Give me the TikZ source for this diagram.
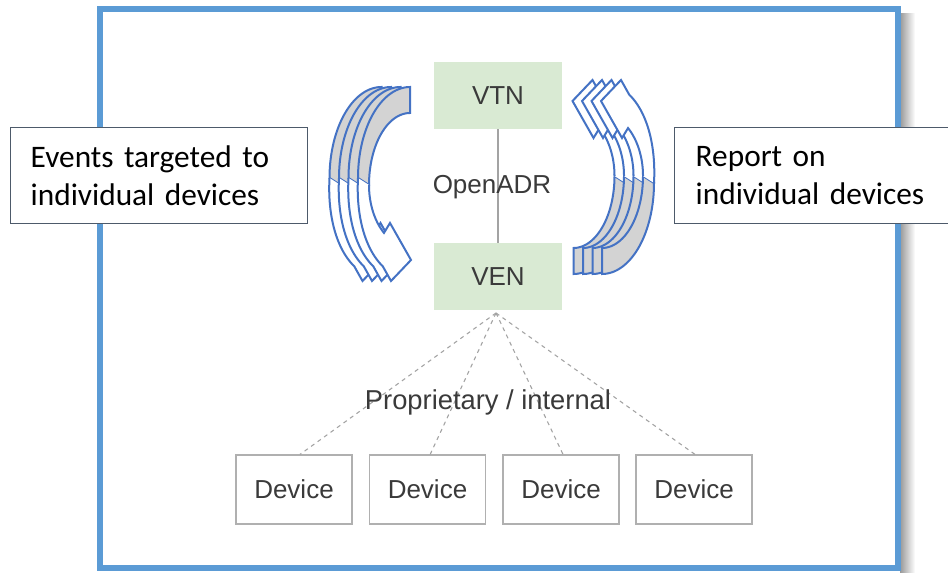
\documentclass[tikz,border=0pt]{standalone}
\usepackage{fontspec}
\setmainfont{Liberation Sans}
\newfontfamily\calib{Carlito}
\definecolor{framecol}{HTML}{5B9BD5}
\definecolor{arrowblue}{HTML}{4472C4}
\definecolor{backgray}{HTML}{D3D3D3}
\definecolor{nodegreen}{HTML}{D9EAD3}
\definecolor{txtgray}{HTML}{3A3A3A}
\definecolor{devgray}{HTML}{B0B0B0}
\definecolor{dashgray}{HTML}{A3A3A3}
\definecolor{boxedge}{HTML}{4D5A6A}

% front (white) band of one curved arrow, offset #1 px
\newcommand\ribfrontpath[1]{plot[domain=180:118,samples=40,variable=\t]({#1+410-(52+6*(180-\t)/62)*cos(180-\t)},{178+100*sin(\t)}) -- ({#1+391},281) -- ({#1+411},260) -- ({#1+390},223) -- plot[domain=129.4:180,samples=40,variable=\t]({#1+410+41*cos(\t)},{185+62*sin(\t)})}
% back (gray) face of one curved arrow
\newcommand\ribback[1]{\filldraw[ribbackstyle] plot[domain=-90:-180,samples=40,variable=\t]({#1+410+52*cos(\t)},{178+91*sin(\t)}) -- plot[domain=180:270,samples=40,variable=\t]({#1+410+41*cos(\t)},{185+72*sin(\t)}) -- cycle;}
\newcommand\ribarrow[1]{\ribback{#1}\fill[white]\ribfrontpath{#1} -- cycle;\draw[riblinestyle]\ribfrontpath{#1};}

\begin{document}
\begin{tikzpicture}[x=0.75pt,y=-0.75pt,
  ribbackstyle/.style={fill=backgray,draw=arrowblue,line width=1.5pt},
  riblinestyle/.style={draw=arrowblue,line width=1.5pt},
  framestyle/.style={draw=framecol,line width=4.5pt},
  gnode/.style={fill=nodegreen,minimum width=96pt,minimum height=50.25pt,inner sep=0pt,text=txtgray,font=\fontsize{19.5pt}{23pt}\selectfont},
  lbl/.style={inner sep=0pt,text=txtgray,font=\fontsize{19.5pt}{23pt}\selectfont},
  dev/.style={draw=devgray,line width=0.9pt,fill=white,minimum width=87pt,minimum height=51.75pt,inner sep=0pt,text=txtgray,font=\fontsize{19.5pt}{23pt}\selectfont},
  link/.style={draw=dashgray,line width=0.8pt},
  dashl/.style={draw=dashgray,line width=0.8pt,dash pattern=on 3pt off 3pt},
  tbox/.style={draw=boxedge,fill=white,line width=1.1pt,align=left,inner ysep=0pt,text=black,font=\calib\fontsize{23.5pt}{28.5pt}\selectfont}
]
\clip (0,0) rectangle (948,573);
\fill[white] (0,0) rectangle (948,573);
% frame with shadow
\shade[left color=black!40,right color=white] (900,14) rectangle (915,573);
\draw[framestyle] (100,9) rectangle (898,568);

% left curved arrows (back to front)
\ribarrow{-28.5}
\ribarrow{-19}
\ribarrow{-9.5}
\ribarrow{0}
% right curved arrows
\begin{scope}[rotate around={180:(506,180.5)}]
\ribarrow{28.5}
\ribarrow{19}
\ribarrow{9.5}
\ribarrow{0}
\end{scope}

% VTN / VEN
\node[gnode] (vtn) at (498,95.5) {VTN};
\node[gnode] (ven) at (498,276.5) {VEN};
\draw[link] (vtn) -- (ven);
\node[lbl] (oadr) at (492,187) {OpenADR};

% devices
\coordinate (apex) at (496,313);
\node[dev] (d1) at (294,489.5) {Device};
\node[dev] (d2) at (427.5,489.5) {Device};
\node[dev] (d3) at (561,489.5) {Device};
\node[dev] (d4) at (694,489.5) {Device};
\draw[dashl] (apex) -- ([xshift=4.5pt]d1.north);
\draw[dashl] (apex) -- ([xshift=2pt]d2.north);
\draw[dashl] (apex) -- ([xshift=1.5pt]d3.north);
\draw[dashl] (apex) -- ([xshift=0.75pt]d4.north);
\node[lbl,anchor=base,font=\fontsize{20.5pt}{24pt}\selectfont] (prop) at (488,409) {Proprietary / internal};

% side text boxes
\node[tbox,anchor=north west,minimum width=222.75pt,minimum height=72pt,text width=192.75pt,inner xsep=15pt] (ev) at (10,127) {Events targeted to\\individual devices};
\node[tbox,anchor=north west,minimum width=214.5pt,minimum height=72pt,text width=183pt,inner xsep=15.75pt] (rep) at (674,127) {Report on\\individual devices};
\end{tikzpicture}
\end{document}
